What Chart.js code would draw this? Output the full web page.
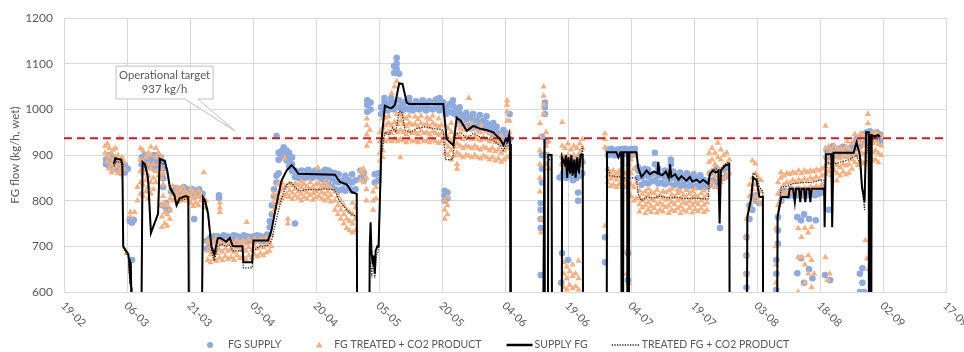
<!DOCTYPE html>
<html>
<head>
<meta charset="utf-8">
<script src="https://cdn.jsdelivr.net/npm/chart.js@4/dist/chart.umd.min.js"></script>
<style>
  body { margin: 0; background: #fff; }
  #wrap { width: 964px; height: 352px; }
</style>
</head>
<body>
<div id="wrap"><canvas id="fgChart" width="964" height="352"></canvas></div>
<script>
// x values are days counted from 19-02
const xTickLabels = ["19-02", "06-03", "21-03", "05-04", "20-04", "05-05", "20-05", "04-06",
  "19-06", "04-07", "19-07", "03-08", "18-08", "02-09", "17-09"];
const targetValue = 937;
const seriesNames = ["FG SUPPLY", "FG TREATED + CO2 PRODUCT", "SUPPLY FG", "TREATED FG + CO2 PRODUCT"];

// scatter: [day, value, value, ...]
const fgSupply = [
  [10.0, 880, 890], [10.8, 875, 890, 900], [11.5, 882, 895], [12.2, 870, 885], [13.0, 865, 880],
  [13.8, 860, 872, 885], [14.5, 862, 878], [15.2, 870], [15.7, 755, 760], [16.2, 670, 752], [16.6, 758],
  [18.5, 880, 895], [19.2, 870, 885, 900], [20.0, 875, 890], [20.8, 880, 895], [21.5, 870, 885, 900],
  [22.3, 878, 892], [23.0, 880, 895], [23.6, 830, 849, 870, 885], [23.4, 790], [24.3, 785, 795], [25.0, 780],
  [25.5, 820], [26.5, 815, 828], [27.5, 812, 825], [28.5, 815, 830], [29.3, 810, 825],
  [30.5, 815, 825], [31.0, 760], [31.3, 810, 822], [32.2, 812, 825], [33.0, 815], [34.0, 695, 712],
  [36.9, 806, 812],
  [34.8, 705, 718], [35.6, 690, 715, 722], [36.4, 712, 722], [37.2, 710, 720], [38.0, 714, 724], [38.8, 712, 722],
  [39.6, 710, 720], [40.4, 714, 724], [41.2, 712, 722], [42.0, 710, 720], [42.8, 714, 724], [43.6, 712, 722],
  [44.4, 712, 720], [45.2, 710, 722], [46.0, 714, 724], [46.8, 712, 722], [47.6, 712, 720], [48.4, 716, 726],
  [49.0, 742, 755], [49.5, 770, 790], [50.0, 810, 825], [50.6, 840, 855, 942], [51.1, 860, 890, 905], [51.7, 895, 908],
  [52.3, 900, 912, 917], [53.0, 888, 900, 910], [53.6, 875, 890, 905], [54.3, 865, 880, 895], [55.0, 750],
  [55.0, 852, 866], [55.8, 850, 862], [56.6, 854, 866], [57.4, 850, 864], [58.2, 852, 868], [59.0, 850, 862],
  [59.8, 854, 866], [60.6, 852, 864], [61.4, 848, 862], [62.2, 840, 856, 868], [63.0, 835, 852, 866], [63.8, 830, 848, 862],
  [64.6, 825, 842, 860], [65.4, 822, 840, 858], [66.2, 825, 845], [67.0, 822, 838, 855], [67.8, 828, 845],
  [68.6, 822, 840, 858], [69.4, 825, 845],
  [70.6, 850, 866], [71.4, 845, 860], [74.0, 840, 858], [74.8, 845, 860],
  [72.2, 995, 1010, 1020], [73.0, 1000, 1015],
  [75.5, 990, 1005], [76.3, 1000, 1015, 1025], [77.1, 998, 1012], [77.9, 1002, 1018, 1025], [78.6, 1000, 1015, 1080, 1095],
  [79.2, 1100, 1113, 1088], [79.8, 1005, 1020, 1078], [80.6, 998, 1012], [81.4, 1002, 1018], [82.2, 1000, 1015, 1025],
  [83.0, 998, 1010], [83.8, 1002, 1018], [84.6, 1000, 1014], [85.4, 1004, 1020], [86.2, 998, 1012], [87.0, 1002, 1018],
  [87.8, 1000, 1015], [88.6, 1004, 1022], [89.4, 998, 1012, 1025], [90.2, 1000, 1016],
  [90.6, 800, 812, 822], [91.3, 805, 818],
  [91.0, 990, 1005], [91.8, 995, 1012], [92.6, 992, 1008, 1020], [93.4, 988, 1002], [94.2, 975, 992, 1005], [95.0, 968, 985],
  [95.8, 962, 978, 992], [96.6, 965, 982], [97.4, 960, 975, 990], [98.2, 962, 978], [99.0, 958, 972, 988], [99.8, 960, 975],
  [100.6, 955, 970, 985], [101.4, 950, 965], [102.2, 940, 955, 970], [103.0, 935, 950, 962], [103.8, 930, 945],
  [104.6, 925, 940, 955], [105.4, 930, 948], [106.1, 935, 990],
  [113.5, 637, 740, 760, 780, 795], [113.8, 840, 870, 900, 940], [114.5, 990, 1005, 1015], [114.9, 900, 930],
  [118.0, 851], [118.4, 620], [118.6, 685], [118.8, 860, 880, 895], [119.6, 850, 870, 890], [120.0, 670],
  [120.4, 855, 875, 895], [121.2, 845, 865, 885], [122.0, 850, 870, 892], [122.4, 800, 818], [122.8, 855, 880, 898], [123.4, 860, 885],
  [128.8, 665, 720], [129.5, 900, 912], [130.3, 902, 914], [131.1, 899, 910], [131.9, 902, 912], [132.7, 900, 913],
  [133.5, 903, 914], [134.3, 626, 685, 901, 912], [135.1, 900, 913], [135.9, 902, 914],
  [136.7, 850, 866, 873], [137.5, 835, 852, 866], [138.3, 840, 856, 870], [139.1, 838, 854, 868], [139.9, 842, 858],
  [140.7, 845, 880, 905], [141.5, 838, 855, 870], [142.3, 840, 856], [143.1, 836, 852, 866], [143.9, 840, 858],
  [144.5, 880, 890], [145.1, 834, 850, 864], [145.9, 838, 854], [146.7, 832, 848, 862], [147.5, 836, 852],
  [148.3, 830, 846, 860], [149.1, 834, 850], [149.9, 830, 845, 858], [150.7, 832, 848], [151.5, 830, 844, 856],
  [152.3, 832, 846], [153.1, 830, 842],
  [153.8, 835, 860], [154.6, 845, 865], [155.4, 840, 870], [156.2, 740], [157.0, 850, 868], [157.8, 855, 872],
  [162.5, 610, 640, 680, 720], [163.2, 760, 790], [163.9, 780, 808], [164.7, 800, 812], [165.5, 795],
  [169.6, 605, 640, 670], [170.0, 706, 735, 764], [170.8, 800, 815], [171.6, 812, 822], [172.4, 810, 820],
  [173.2, 815, 825], [174.0, 810, 822], [174.8, 812, 825], [175.6, 815, 822], [176.4, 810, 820], [177.2, 812, 824],
  [178.0, 815, 826], [178.8, 812, 822], [179.6, 815, 826], [180.4, 818, 828],
  [174.6, 764, 641], [175.5, 757, 674], [176.2, 770, 620], [177.4, 760, 650], [178.2, 630], [179.0, 757],
  [181.2, 637], [181.6, 895, 910], [182.1, 780], [182.4, 626, 900, 915], [183.1, 902, 920], [183.9, 898, 912],
  [184.7, 900, 915], [185.5, 902, 918], [186.3, 898, 912], [187.1, 900, 915], [187.9, 905, 925], [188.7, 915, 935],
  [189.5, 600, 640, 920, 940], [190.1, 620, 652], [190.3, 925, 945], [190.5, 600], [191.1, 930, 950], [191.9, 935, 952],
  [192.7, 932, 948], [193.5, 935, 950], [194.3, 930, 945]
];

const fgTreated = [
  [9.8, 905, 920], [10.3, 885, 900, 925], [10.8, 870, 895, 915], [11.3, 862, 880, 905], [11.8, 870, 890, 912],
  [12.3, 875, 895, 915], [12.8, 860, 880, 900], [13.3, 865, 885, 937], [13.8, 858, 875, 895], [14.3, 870, 885],
  [14.9, 685], [15.8, 765, 775],
  [16.8, 775], [17.5, 800, 830], [18.2, 815, 840, 865, 890, 915], [18.8, 810, 835, 860, 885, 910],
  [19.5, 820, 845, 870, 895], [20.1, 805, 830, 855, 880, 905], [20.7, 815, 840, 870, 900, 918],
  [21.3, 825, 850, 880], [21.9, 840, 865, 895, 915], [22.5, 855, 880, 905], [23.1, 850, 870, 895], [23.6, 810, 835, 860],
  [23.3, 742, 765, 790], [24.0, 750, 775, 795], [24.6, 745, 770, 790], [25.2, 760, 780],
  [25.3, 805, 825], [25.9, 800, 815, 832], [26.5, 805, 820], [27.1, 798, 812, 828], [27.7, 805, 822],
  [28.3, 800, 815, 830], [28.9, 806, 820], [29.5, 800, 815], [30.2, 795, 810, 825], [30.8, 788, 805, 820],
  [31.4, 795, 812], [32.0, 790, 808, 822], [32.6, 800, 815], [33.3, 862], [33.8, 785, 800],
  [37.1, 775, 785, 795], [43.5, 753],
  [34.2, 670, 690, 710], [34.9, 665, 682, 700, 715], [35.6, 672, 690, 708], [36.3, 668, 685, 702, 718],
  [37.0, 675, 692, 710], [37.7, 670, 688, 705], [38.4, 678, 695, 712], [39.1, 672, 690, 706], [39.8, 676, 694, 712],
  [40.5, 670, 688, 704], [41.2, 680, 698, 714], [41.9, 674, 692, 708], [42.6, 678, 696, 712], [43.3, 672, 690, 706],
  [44.0, 680, 698, 716], [44.7, 675, 692, 708], [45.4, 682, 700, 716], [46.1, 678, 695, 712], [46.8, 684, 700, 716],
  [47.5, 680, 698, 714], [48.2, 686, 702, 718],
  [48.9, 690, 710], [49.4, 700, 725], [49.9, 775, 795, 815], [50.4, 785, 805], [50.9, 795, 815, 835],
  [51.4, 800, 820, 838], [51.9, 805, 825, 840], [52.5, 810, 830, 894], [53.0, 815, 832], [53.3, 750, 760],
  [53.7, 808, 822, 838], [54.4, 803, 817, 833], [55.1, 811, 826, 838], [55.8, 806, 820, 834], [56.5, 800, 815, 830, 842],
  [57.2, 808, 822, 836], [57.9, 804, 818, 831], [58.6, 812, 826, 840], [59.3, 802, 816, 830], [60.0, 807, 821, 836],
  [60.5, 872], [60.7, 810, 825, 838], [61.4, 804, 818, 832], [62.1, 800, 814, 828, 840], [62.8, 806, 820, 834],
  [63.5, 798, 812, 828], [64.5, 780, 800, 820], [65.2, 770, 790, 810], [65.9, 760, 780, 800], [66.6, 750, 770, 790],
  [67.3, 740, 760, 780], [68.0, 735, 755, 775], [68.7, 730, 750, 770, 795], [69.4, 735, 760, 785],
  [70.6, 845, 865], [71.3, 840, 860, 870], [72.0, 800, 825, 850], [73.6, 780, 800, 820], [74.3, 805, 830],
  [72.1, 920, 945, 965, 980], [72.8, 930, 955],
  [75.2, 888, 905, 930, 950], [75.9, 895, 910, 935, 960, 980], [76.6, 930, 948, 965, 982], [77.3, 935, 952, 970, 985],
  [78.0, 930, 948, 965, 1035], [78.7, 935, 955, 972, 1050], [79.2, 990, 1062], [79.4, 930, 950, 968], [80.1, 895, 935, 955, 975, 988],
  [80.8, 932, 950, 968, 984], [81.5, 928, 946, 964, 980], [82.2, 935, 952, 970, 986], [82.9, 930, 948, 966],
  [83.6, 932, 950, 968, 984], [84.3, 928, 946, 962, 978], [85.0, 935, 953, 970, 986], [85.7, 930, 948, 966],
  [86.4, 932, 950, 968, 982], [87.1, 928, 945, 962, 978], [87.8, 934, 952, 970, 986], [88.5, 930, 948, 965],
  [89.2, 926, 944, 962, 980], [89.9, 930, 948, 966],
  [90.6, 760, 780, 800], [91.3, 770, 790, 808],
  [90.8, 905, 925, 945, 965], [91.5, 900, 918, 938, 958], [92.2, 890, 910, 930, 950, 970], [92.9, 898, 918, 940],
  [93.6, 870, 880, 905, 925, 945, 965], [94.3, 900, 920, 940, 958], [95.0, 895, 915, 935, 955, 972],
  [95.7, 900, 920, 940, 960], [96.4, 898, 918, 938, 1025], [97.1, 895, 915, 935, 955, 970], [97.8, 900, 920, 940],
  [98.5, 895, 915, 935, 952], [99.2, 892, 912, 932, 950, 965], [99.9, 898, 918, 938], [100.6, 895, 915, 935, 952],
  [101.3, 890, 910, 930, 948], [102.0, 895, 915, 935], [102.7, 888, 908, 928, 945], [103.4, 892, 912, 930],
  [104.1, 885, 905, 925, 942], [104.8, 890, 910, 928], [105.5, 895, 915, 975, 995, 1010, 1020], [106.1, 900, 950, 975],
  [113.3, 820, 850, 880, 910, 940, 970], [113.6, 730, 760], [114.2, 990, 1010, 1030, 1050], [114.8, 880, 920, 950], [115.4, 870, 900, 930],
  [118.6, 880, 900, 920, 972], [119.3, 875, 895, 915], [120.0, 880, 900, 925], [120.7, 873, 892, 912],
  [121.4, 880, 900, 920], [122.1, 875, 895, 915], [122.8, 882, 905, 925], [123.4, 890, 915, 935],
  [119.0, 610, 640, 665], [119.7, 605, 630, 655], [120.4, 615, 645], [121.1, 608, 635, 660], [121.8, 612, 640], [122.5, 605, 630, 668],
  [128.8, 745, 917, 935, 947], [129.4, 840, 855, 870], [130.1, 832, 848, 862], [130.8, 835, 852, 866], [131.5, 830, 846, 860],
  [132.2, 836, 852, 865], [132.9, 832, 848, 862], [133.6, 830, 845, 860], [134.3, 820, 840, 860, 880],
  [135.0, 810, 835, 860, 890], [135.7, 800, 830, 870, 900], [136.3, 805, 840], [134.0, 640, 690], [134.5, 620],
  [137.0, 776, 792, 806, 822], [137.7, 785, 800, 815], [138.4, 772, 790, 805, 820], [139.1, 780, 796, 812, 826],
  [139.8, 775, 788, 803, 818], [140.5, 784, 800, 816], [141.2, 774, 792, 808, 824], [141.9, 780, 795, 812],
  [142.6, 776, 790, 806, 820], [143.3, 786, 802, 818], [144.0, 773, 789, 804, 822], [144.7, 780, 797, 813, 826],
  [145.4, 777, 792, 808], [146.1, 783, 800, 816, 824], [146.8, 772, 788, 804, 820], [147.5, 780, 796, 812],
  [148.2, 776, 793, 808, 823], [148.9, 784, 799, 815], [149.6, 774, 790, 806, 821], [150.3, 781, 797, 812, 826],
  [151.0, 777, 792, 808], [151.7, 783, 800, 816], [152.4, 775, 791, 806, 822], [153.1, 780, 796, 812],
  [153.6, 835, 860, 885, 905], [154.3, 840, 865, 890, 915], [155.0, 830, 855, 880, 905], [155.7, 845, 870, 895, 927],
  [156.4, 840, 865, 890, 912], [157.1, 850, 875, 900], [157.8, 855, 880, 905], [158.4, 860, 890],
  [162.5, 640, 680, 720, 760], [163.2, 785, 810, 835], [163.9, 800, 825, 850, 888], [164.6, 810, 835, 860, 881],
  [165.3, 800, 825, 850], [166.0, 795, 820, 845],
  [169.5, 620, 660, 700, 740], [170.0, 790, 815, 840], [170.7, 800, 825, 850, 862], [171.4, 815, 835, 855],
  [172.1, 820, 840, 860], [172.8, 818, 838, 858], [173.5, 825, 845, 862], [174.2, 820, 840, 860], [174.9, 826, 846, 866],
  [175.6, 822, 842, 860], [176.3, 828, 848, 866], [177.0, 824, 844, 862], [177.7, 830, 850, 866], [178.4, 826, 846, 864],
  [179.1, 832, 852, 868], [179.8, 828, 848, 866], [180.5, 835, 855, 870],
  [174.8, 600, 676, 740], [175.6, 676, 720], [176.4, 620, 660, 740], [177.2, 640, 680, 730], [178.0, 610, 670, 742], [178.6, 640],
  [181.3, 676, 858, 876, 897, 915, 964], [181.8, 626], [182.0, 864, 882, 900, 918], [182.3, 640], [182.7, 856, 874, 893, 910],
  [183.4, 866, 884, 902, 920], [184.0, 844], [184.1, 860, 878, 895, 913], [184.8, 855, 873, 892, 916],
  [185.5, 863, 880, 899, 911], [186.2, 857, 877, 896, 918], [186.5, 930], [186.9, 861, 880, 897, 914],
  [187.6, 870, 890, 908, 926], [188.3, 884, 903, 926, 946], [189.0, 878, 898, 918, 938], [189.7, 887, 907, 928, 947],
  [190.4, 882, 901, 921, 942], [190.8, 713], [191.1, 886, 906, 924, 944], [191.2, 673], [191.4, 970, 990], [191.6, 650],
  [191.8, 879, 899, 919, 941], [192.5, 888, 906, 926, 948], [193.2, 890, 910, 930, 950], [193.9, 884, 904, 924, 944],
  [194.6, 900, 920, 940]
];

// lines: [day, value]
const supplyFG = [
  [11.9, 880], [12.2, 893], [13.6, 890], [13.9, 880], [14.1, 700], [14.8, 690], [15.3, 683], [15.5, 670],
  [15.6, 640], [15.7, 672], [15.8, 620], [15.9, 665], [16.0, 610], [16.1, 0],
  [18.0, 0], [18.7, 885], [19.3, 880], [20.0, 850], [20.7, 729], [22.4, 772], [22.8, 892], [24.0, 887],
  [24.6, 865], [25.2, 830], [26.3, 812], [26.8, 790], [27.5, 805], [29.0, 810], [29.6, 808], [30.0, 0],
  [32.3, 0], [33.1, 808], [33.6, 800], [34.3, 772], [35.1, 700], [35.8, 682], [36.6, 718], [37.4, 718],
  [38.6, 710], [39.5, 718], [40.2, 700], [42.5, 700], [42.7, 665], [44.8, 665], [45.1, 713], [48.6, 713],
  [49.4, 735], [50.6, 793], [51.8, 844], [53.0, 866], [54.2, 878], [55.0, 870], [55.8, 859], [64.5, 857],
  [65.7, 841], [67.3, 836], [68.5, 819], [69.7, 815], [70.0, 0],
  [72.4, 0], [72.8, 700], [73.0, 753], [73.2, 690], [73.5, 660], [73.7, 680], [74.0, 640], [74.2, 690],
  [74.6, 700], [74.9, 700], [75.6, 932], [76.4, 1008], [77.4, 1004], [78.0, 1003], [78.8, 1010], [79.8, 1057],
  [80.6, 1056], [81.6, 1015], [82.2, 1012], [90.3, 1012], [91.1, 935], [92.7, 921], [93.5, 982], [94.5, 975],
  [95.9, 953], [97.5, 964], [99.0, 958], [100.6, 955], [102.2, 950], [103.8, 935], [104.6, 922], [105.2, 935],
  [105.6, 930], [106.0, 945], [106.2, 925], [106.4, 0],
  [113.7, 0], [114.4, 935], [114.6, 0], [115.1, 0], [115.3, 900], [116.1, 900], [116.3, 0],
  [118.4, 0], [118.6, 895], [119.2, 880], [119.5, 900], [119.8, 850], [120.1, 895], [120.5, 860], [120.8, 900],
  [121.1, 855], [121.5, 890], [121.8, 850], [122.2, 895], [122.6, 860], [123.0, 900], [123.5, 900], [123.7, 0],
  [129.1, 0], [129.3, 906], [131.5, 906], [132.0, 895], [132.5, 906], [132.7, 906], [132.8, 0], [133.0, 0],
  [133.2, 906], [134.1, 906], [134.2, 0], [134.4, 0], [134.6, 906], [136.3, 906], [136.7, 873], [137.5, 852],
  [138.7, 866], [139.5, 858], [140.5, 864], [141.3, 860], [141.5, 885], [141.8, 858], [142.5, 856], [143.3, 864],
  [144.0, 850], [144.3, 880], [144.6, 852], [145.5, 858], [146.3, 846], [147.0, 854], [148.2, 844], [149.0, 852],
  [149.6, 842], [150.6, 846], [151.4, 840], [152.2, 846], [153.4, 837], [153.8, 859], [154.5, 866], [155.2, 862],
  [155.8, 866], [156.1, 750], [156.4, 866], [157.4, 877], [158.4, 880], [158.6, 0],
  [162.4, 0], [162.7, 764], [163.6, 804], [164.1, 851], [164.9, 845], [165.6, 808], [166.4, 808], [166.5, 0],
  [169.6, 0], [169.9, 764], [170.8, 808], [172.5, 808], [172.8, 826], [173.6, 826], [174.0, 797], [174.3, 826],
  [175.0, 826], [175.3, 797], [175.6, 826], [176.2, 826], [176.5, 797], [176.8, 826], [177.4, 826], [177.7, 797],
  [178.0, 826], [181.0, 826], [181.1, 742], [181.4, 902], [182.7, 902], [182.9, 742], [183.2, 905], [188.0, 905],
  [188.7, 928], [189.5, 900], [190.0, 830], [190.6, 798], [191.0, 950], [191.6, 950], [191.7, 0], [191.9, 945],
  [192.1, 0], [192.3, 944], [193.0, 941], [193.9, 944], [194.3, 940]
];

const treatedFG = [
  [11.9, 875], [12.2, 886], [13.6, 884], [13.9, 875], [14.1, 695], [14.8, 686], [15.3, 678], [15.5, 650],
  [15.6, 630], [15.7, 668], [15.8, 612], [15.9, 655], [16.0, 605], [16.1, 0],
  [18.0, 0], [18.7, 880], [19.5, 870], [20.1, 845], [20.7, 730], [22.4, 770], [22.8, 885], [24.2, 878],
  [25.2, 825], [26.3, 808], [26.8, 788], [27.5, 800], [29.6, 805], [30.0, 0],
  [32.3, 0], [33.1, 805], [34.3, 770], [35.1, 690], [35.8, 668], [36.6, 700], [37.5, 705], [38.6, 700],
  [39.5, 703], [40.2, 690], [42.5, 690], [42.7, 653], [44.8, 653], [45.1, 690], [46.5, 700], [48.6, 702],
  [49.4, 712], [50.6, 760], [51.8, 805], [53.0, 835], [54.0, 841], [55.0, 830], [56.0, 822], [58.0, 825],
  [60.0, 824], [62.0, 826], [64.5, 824], [65.5, 800], [67.3, 780], [68.5, 770], [69.7, 765], [70.0, 0],
  [72.4, 0], [72.8, 670], [73.3, 640], [73.6, 680], [74.0, 630], [74.4, 680], [74.9, 690], [75.6, 900],
  [76.4, 950], [77.4, 945], [78.2, 960], [79.0, 950], [79.8, 997], [80.4, 995], [81.2, 955], [82.5, 950],
  [84.0, 958], [86.0, 962], [88.0, 958], [90.3, 955], [90.8, 890], [92.5, 890], [93.2, 945], [94.5, 950],
  [95.9, 935], [97.5, 948], [99.0, 940], [100.6, 938], [102.2, 932], [103.8, 920], [104.6, 910], [105.4, 925],
  [106.2, 915], [106.4, 0],
  [113.7, 0], [114.4, 920], [114.6, 0], [115.1, 0], [115.3, 890], [116.1, 890], [116.3, 0],
  [118.4, 0], [118.6, 890], [119.5, 880], [120.1, 890], [121.0, 875], [122.0, 890], [123.0, 890], [123.5, 920], [123.7, 0],
  [129.1, 0], [129.3, 880], [130.0, 855], [132.7, 852], [132.8, 0], [133.0, 0], [133.2, 850], [134.1, 850],
  [134.2, 0], [134.4, 0], [134.6, 850], [136.3, 850], [136.7, 815], [137.5, 800], [138.7, 808], [140.0, 806],
  [142.0, 810], [144.0, 806], [146.0, 808], [148.0, 804], [150.0, 806], [152.0, 804], [153.4, 804], [153.8, 860],
  [155.0, 870], [156.0, 868], [156.1, 780], [156.4, 870], [157.4, 880], [158.4, 885], [158.6, 0],
  [162.4, 0], [162.7, 770], [163.6, 810], [164.1, 860], [164.9, 855], [165.6, 830], [166.4, 820], [166.5, 0],
  [169.6, 0], [169.9, 770], [170.8, 830], [172.5, 832], [173.6, 838], [176.0, 840], [178.0, 840], [180.0, 845],
  [181.0, 845], [181.1, 760], [181.4, 885], [182.9, 880], [183.2, 880], [185.0, 885], [187.0, 890], [188.7, 900],
  [189.5, 880], [190.0, 830], [190.6, 780], [191.0, 900], [191.6, 930], [191.7, 0], [191.9, 930], [192.1, 0],
  [192.3, 935], [193.9, 940], [194.3, 935]
];

// callout for the target, in axis units
const callout = { left: 12.4, right: 35.5, top: 1095, bottom: 1023, baseA: 28.8, baseB: 31.9, tipX: 40.7, tipY: 953 };
const calloutText = ["Operational target", "937 kg/h"];

const FONT = "Lato, 'Open Sans', sans-serif";
const GREY = "#595959";
const BLUE = "#8FAADC";
const ORANGE = "#F4B183";

const cloud = (rows) => {
  const pts = [];
  rows.forEach((r) => r.slice(1).forEach((v) => pts.push({ x: r[0], y: v })));
  return pts;
};
const toXY = (pairs) => pairs.map(([x, y]) => ({ x, y }));

const xLabelPlugin = {
  id: "xLabels",
  afterDraw(chart) {
    const { ctx, chartArea } = chart;
    const x = chart.scales.x;
    ctx.save();
    ctx.font = "11px " + FONT;
    ctx.fillStyle = GREY;
    ctx.textAlign = "left";
    ctx.textBaseline = "middle";
    x.ticks.forEach((t, i) => {
      const px = x.getPixelForValue(t.value);
      ctx.save();
      ctx.translate(px - 1, chartArea.bottom + 12);
      ctx.rotate(Math.PI / 4);
      ctx.fillText(xTickLabels[i] || "", 0, 0);
      ctx.restore();
    });
    ctx.restore();
  }
};

// legend along the bottom: symbol lead-in and gap after the text
const legendPlugin = {
  id: "bottomLegend",
  afterDraw(chart) {
    const { ctx } = chart;
    const y = 345;
    let x = 206;
    ctx.save();
    ctx.font = "10.5px " + FONT;
    ctx.textBaseline = "middle";
    ctx.textAlign = "left";
    const items = [
      { lead: 22, gap: 31, draw: (x0) => { ctx.fillStyle = BLUE; ctx.beginPath(); ctx.arc(x0 + 4, y, 3, 0, Math.PI * 2); ctx.fill(); } },
      { lead: 22, gap: 25, draw: (x0) => { ctx.fillStyle = ORANGE; ctx.beginPath(); ctx.moveTo(x0 + 7, y - 3.5); ctx.lineTo(x0 + 10.5, y + 2.5); ctx.lineTo(x0 + 3.5, y + 2.5); ctx.closePath(); ctx.fill(); } },
      { lead: 28, gap: 24, draw: (x0) => { ctx.strokeStyle = "#000"; ctx.lineWidth = 2.5; ctx.setLineDash([]); ctx.beginPath(); ctx.moveTo(x0, y); ctx.lineTo(x0 + 26, y); ctx.stroke(); } },
      { lead: 30, gap: 0, draw: (x0) => { ctx.strokeStyle = "#222"; ctx.lineWidth = 1.3; ctx.setLineDash([1.3, 1.3]); ctx.beginPath(); ctx.moveTo(x0, y); ctx.lineTo(x0 + 28, y); ctx.stroke(); ctx.setLineDash([]); } }
    ];
    items.forEach((it, i) => {
      it.draw(x);
      ctx.fillStyle = GREY;
      ctx.fillText(seriesNames[i], x + it.lead, y);
      x += it.lead + ctx.measureText(seriesNames[i]).width + it.gap;
    });
    ctx.restore();
  }
};

const calloutPlugin = {
  id: "callout",
  afterDraw(chart) {
    const { ctx } = chart;
    const x = chart.scales.x, y = chart.scales.y;
    const l = x.getPixelForValue(callout.left), r = x.getPixelForValue(callout.right);
    const t = y.getPixelForValue(callout.top), b = y.getPixelForValue(callout.bottom);
    const a = x.getPixelForValue(callout.baseA), c = x.getPixelForValue(callout.baseB);
    const tx = x.getPixelForValue(callout.tipX), ty = y.getPixelForValue(callout.tipY);
    ctx.save();
    ctx.fillStyle = "#fff";
    ctx.strokeStyle = "#bfbfbf";
    ctx.lineWidth = 1;
    ctx.beginPath();
    ctx.moveTo(l, t); ctx.lineTo(r, t); ctx.lineTo(r, b); ctx.lineTo(c, b);
    ctx.lineTo(tx, ty); ctx.lineTo(a, b); ctx.lineTo(l, b); ctx.closePath();
    ctx.fill();
    ctx.stroke();
    ctx.fillStyle = GREY;
    ctx.font = "11.3px " + FONT;
    ctx.textAlign = "center";
    ctx.textBaseline = "middle";
    const cx = (l + r) / 2;
    ctx.fillText(calloutText[0], cx, t + 9);
    ctx.fillText(calloutText[1], cx, t + 23);
    ctx.restore();
  }
};

const ctx = document.getElementById("fgChart").getContext("2d");
const chart = new Chart(ctx, {
  type: "scatter",
  data: {
    datasets: [
      {
        label: seriesNames[0],
        data: cloud(fgSupply),
        pointStyle: "circle",
        pointRadius: 3.3,
        backgroundColor: BLUE,
        borderWidth: 0,
        order: 5
      },
      {
        label: seriesNames[1],
        data: cloud(fgTreated),
        pointStyle: "triangle",
        pointRadius: 3.7,
        backgroundColor: ORANGE,
        borderWidth: 0,
        order: 4
      },
      {
        label: seriesNames[2],
        data: toXY(supplyFG),
        showLine: true,
        pointRadius: 0,
        borderColor: "#000",
        borderWidth: 2,
        order: 1
      },
      {
        label: seriesNames[3],
        data: toXY(treatedFG),
        showLine: true,
        pointRadius: 0,
        borderColor: "#222",
        borderWidth: 1.2,
        borderDash: [1.3, 1.3],
        order: 2
      },
      {
        label: "target",
        data: [{ x: 0, y: targetValue }, { x: 210, y: targetValue }],
        showLine: true,
        pointRadius: 0,
        borderColor: "#C8202A",
        borderWidth: 2,
        borderDash: [8, 5],
        order: 3
      }
    ]
  },
  options: {
    responsive: false,
    animation: false,
    devicePixelRatio: 1,
    layout: { padding: { top: 17, right: 18, left: 0, bottom: 0 } },
    scales: {
      x: {
        type: "linear",
        min: 0,
        max: 210,
        ticks: { stepSize: 15, display: false },
        grid: { color: "#d9d9d9", drawTicks: false },
        border: { color: "#d9d9d9" },
        afterFit: (scale) => { scale.height = 60; }
      },
      y: {
        min: 600,
        max: 1200,
        ticks: {
          stepSize: 100,
          color: GREY,
          padding: 11,
          font: { family: FONT, size: 12 },
          callback: (v) => String(v)
        },
        grid: { color: "#d9d9d9", drawTicks: false },
        border: { color: "#d9d9d9" },
        title: {
          display: true,
          text: "FG flow (kg/h, wet)",
          color: GREY,
          font: { family: FONT, size: 11.5 },
          padding: { top: 8, bottom: 0 }
        },
        afterFit: (scale) => { scale.width = 64; }
      }
    },
    plugins: {
      tooltip: { enabled: false },
      legend: { display: false }
    }
  },
  plugins: [xLabelPlugin, calloutPlugin, legendPlugin]
});
</script>
</body>
</html>
